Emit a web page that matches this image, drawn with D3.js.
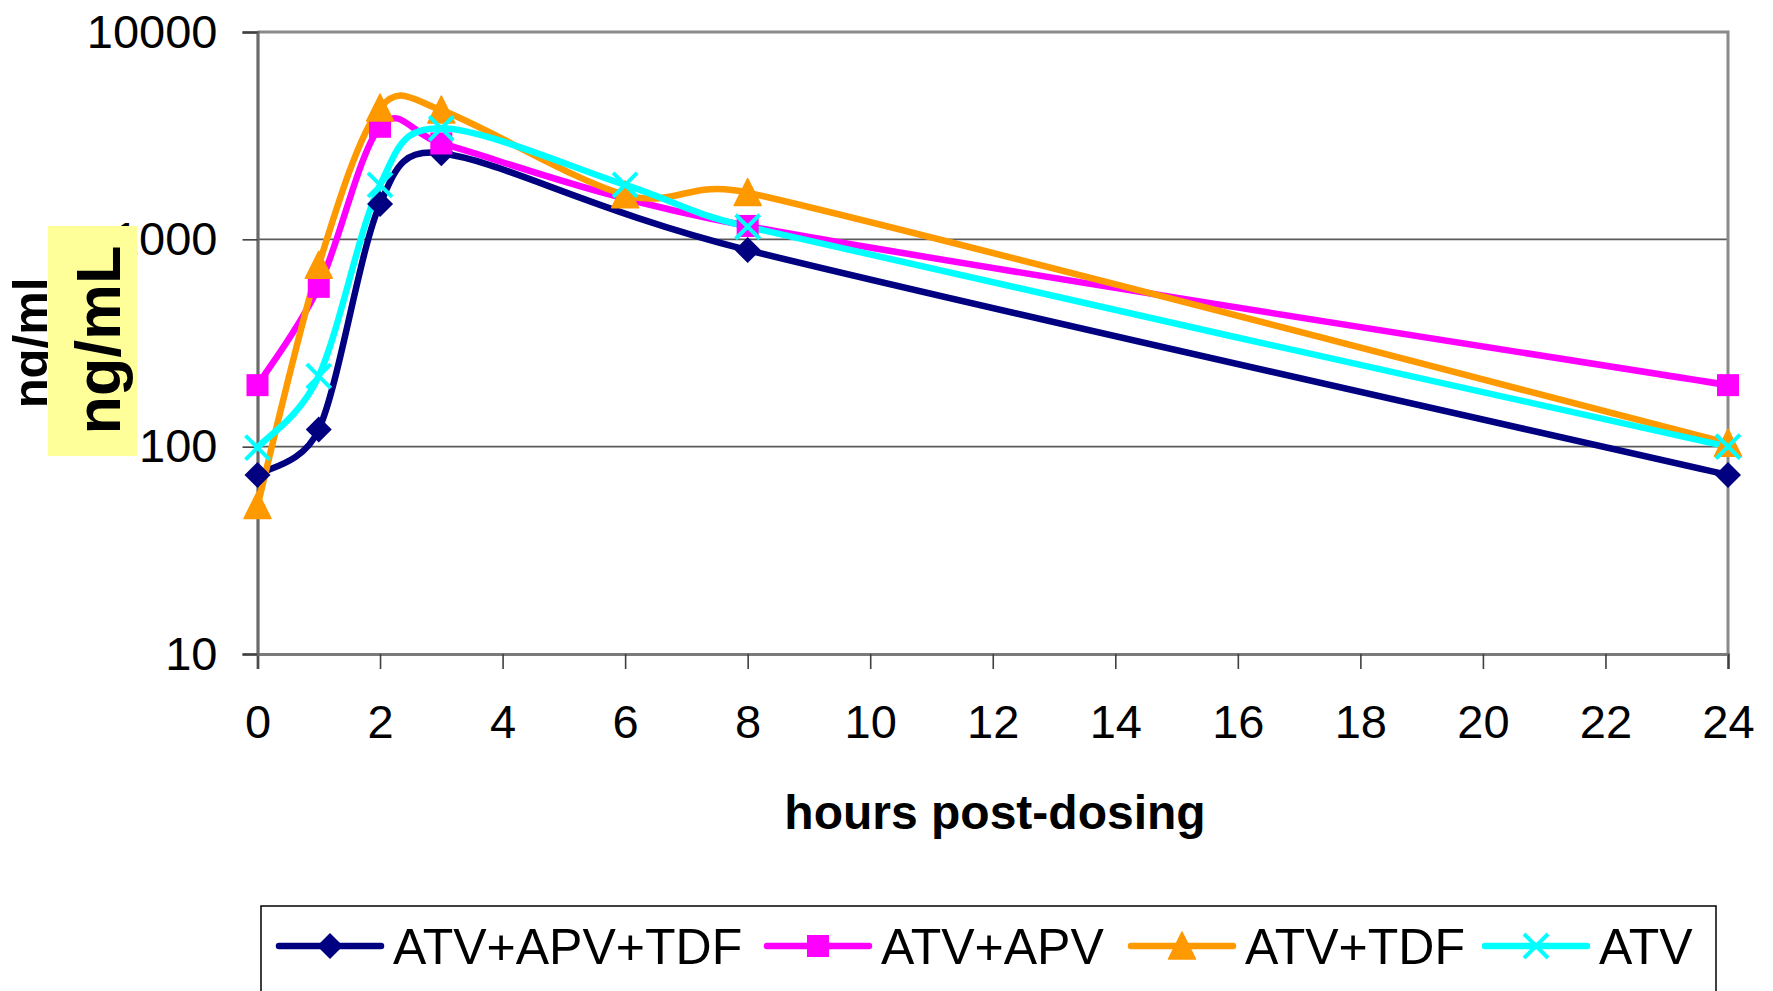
<!DOCTYPE html>
<html><head><meta charset="utf-8">
<script src="https://cdn.jsdelivr.net/npm/d3@7"></script>
<style>
html,body{margin:0;padding:0;background:#fff;}
svg{display:block;font-family:"Liberation Sans",Arial,Helvetica,sans-serif;}
</style>
</head><body>
<svg id="chart" width="1773" height="991"></svg>
<script>
// ---- data ----
const xTicks = [0,2,4,6,8,10,12,14,16,18,20,22,24];
const yTicks = [10,100,1000,10000];
const seriesNames = ["ATV+APV+TDF","ATV+APV","ATV+TDF","ATV"];
const seriesColors = ["#000080","#FF00FF","#FF9900","#00FFFF"];
const seriesMarkers = ["diamond","square","triangle","cross"];
const hoursATV_APV_TDF = [0,1,2,3,8,24];
const concATV_APV_TDF  = [73,121,1480,2600,888,73];
const hoursATV_APV = [0,1,2,3,8,24];
const concATV_APV  = [198,590,3490,2900,1160,198];
const hoursATV_TDF = [0,1,2,3,6,8,24];
const concATV_TDF  = [52,750,4300,4200,1640,1680,104];
const hoursATV = [0,1,2,3,6,8,24];
const concATV  = [99,219,1830,3430,1830,1150,100];
const xLabel = "hours post-dosing";
const yLabelOld = "ng/ml";
const yLabelNew = "ng/mL";

const seriesHours = [hoursATV_APV_TDF, hoursATV_APV, hoursATV_TDF, hoursATV];
const seriesConc = [concATV_APV_TDF, concATV_APV, concATV_TDF, concATV];
const series = seriesNames.map((n,i)=>({
  name:n, color:seriesColors[i], marker:seriesMarkers[i],
  pts: seriesHours[i].map((h,j)=>({h:h, v:seriesConc[i][j]}))
}));

// ---- spreadsheet-style smoothed curve (custom d3 curve factory) ----
function SmoothCurve(context){ this._context = context; }
SmoothCurve.prototype = {
  areaStart(){}, areaEnd(){},
  lineStart(){ this._pts = []; },
  point(x,y){ this._pts.push([+x,+y]); },
  lineEnd(){
    const p = this._pts, c = this._context, n = p.length;
    if(!n) return;
    c.moveTo(p[0][0], p[0][1]);
    if(n===1) return;
    const dist = (a,b)=>Math.hypot(b[0]-a[0], b[1]-a[1]);
    for(let i=0;i<n-1;i++){
      const p0 = p[Math.max(i-1,0)], p1 = p[i], p2 = p[i+1], p3 = p[Math.min(i+2,n-1)];
      const d12 = dist(p1,p2), d02 = dist(p0,p2), d13 = dist(p1,p3);
      let f1 = 1/6, f2 = 1/6;
      if(d02/6 >= d12/2 && d02>0) f1 = d12/(2*d02);
      if(d13/6 >= d12/2 && d13>0) f2 = d12/(2*d13);
      const b1 = [p1[0]+f1*(p2[0]-p0[0]), p1[1]+f1*(p2[1]-p0[1])];
      const b2 = [p2[0]-f2*(p3[0]-p1[0]), p2[1]-f2*(p3[1]-p1[1])];
      c.bezierCurveTo(b1[0],b1[1],b2[0],b2[1],p2[0],p2[1]);
    }
  }
};
const curveSmooth = ctx => new SmoothCurve(ctx);

// ---- layout ----
const svg = d3.select("#chart");
const L = 257.5, R = 1728, T = 32, B = 654;
const x = d3.scaleLinear().domain([0,24]).range([L,R]);
const y = d3.scaleLog().domain([10,10000]).range([B,T]);

// gridlines
svg.append("g").selectAll("line").data([100,1000]).join("line")
  .attr("x1",L).attr("x2",R).attr("y1",d=>y(d)).attr("y2",d=>y(d))
  .attr("stroke","#5a5a5a").attr("stroke-width",1.6);

// top & right border
svg.append("path")
  .attr("d",`M${L},${y(10000)}H${R}V${B}`)
  .attr("fill","none").attr("stroke","#8a8a8a").attr("stroke-width",3);

// x axis
const xAxis = svg.append("g").attr("transform",`translate(0,${B})`)
  .call(d3.axisBottom(x).tickValues(xTicks).tickSize(15).tickPadding(36).tickFormat(d3.format("d")));
xAxis.select(".domain").attr("stroke","#7a7a7a").attr("stroke-width",3);
xAxis.selectAll(".tick line").attr("stroke","#404040").attr("stroke-width",1.6);
xAxis.selectAll(".tick text").attr("font-size",47).attr("fill","#000")
  .attr("font-family","'Liberation Sans',Arial,sans-serif").attr("dy","0.71em");

// y axis
const yAxis = svg.append("g").attr("transform",`translate(${L},0)`)
  .call(d3.axisLeft(y).tickValues(yTicks).tickSize(15).tickPadding(25).tickFormat(d3.format("d")));
yAxis.select(".domain").attr("stroke","#6a6a6a").attr("stroke-width",3.2);
yAxis.selectAll(".tick line").attr("stroke","#404040").attr("stroke-width",1.6);
yAxis.selectAll(".tick text").attr("font-size",47).attr("fill","#000")
  .attr("font-family","'Liberation Sans',Arial,sans-serif").attr("dy","0.32em");

// series lines
const line = d3.line().x(d=>x(d.h)).y(d=>y(d.v)).curve(curveSmooth);
svg.append("g").selectAll("path").data(series).join("path")
  .attr("d",d=>line(d.pts)).attr("fill","none")
  .attr("stroke",d=>d.color).attr("stroke-width",6.5)
  .attr("stroke-linejoin","round").attr("stroke-linecap","round");

// markers
function drawMarker(g, type, color, cx, cy){
  if(type==="diamond"){
    g.append("path").attr("d",`M${cx},${cy-13}L${cx+13},${cy}L${cx},${cy+13}L${cx-13},${cy}Z`).attr("fill",color);
  } else if(type==="square"){
    g.append("rect").attr("x",cx-11).attr("y",cy-11).attr("width",22).attr("height",22).attr("fill",color);
  } else if(type==="triangle"){
    g.append("path").attr("d",`M${cx},${cy-14}L${cx+13.5},${cy+13}L${cx-13.5},${cy+13}Z`).attr("fill",color)
      .attr("stroke",color).attr("stroke-width",1.5).attr("stroke-linejoin","round");
  } else {
    g.append("path").attr("d",`M${cx-12},${cy-12}L${cx+12},${cy+12}M${cx+12},${cy-12}L${cx-12},${cy+12}`)
      .attr("stroke",color).attr("stroke-width",4).attr("fill","none");
  }
}
const mg = svg.append("g");
series.forEach(s=>{
  s.pts.forEach(p=>drawMarker(mg, s.marker, s.color, x(p.h), y(p.v)));
});

// y axis titles
svg.append("text").attr("transform","translate(47,343) rotate(-90)")
  .attr("text-anchor","middle").attr("font-size",49).attr("font-weight","bold").attr("fill","#000")
  .text(yLabelOld);
svg.append("rect").attr("x",48).attr("y",226).attr("width",89).attr("height",230).attr("fill","#FFFF99");
svg.append("text").attr("transform","translate(120,340) rotate(-90)")
  .attr("text-anchor","middle").attr("font-size",63).attr("font-weight","bold").attr("fill","#000")
  .text(yLabelNew);

// x axis title
svg.append("text").attr("x",995).attr("y",829).attr("text-anchor","middle")
  .attr("font-size",48).attr("font-weight","bold").attr("fill","#000").text(xLabel);

// legend
svg.append("rect").attr("x",261).attr("y",906).attr("width",1455).attr("height",120)
  .attr("fill","#fff").attr("stroke","#000").attr("stroke-width",1.5);
const legLineX = [279, 767, 1131, 1485];
const legLineW = 102;
const legY = 946;
series.forEach((s,i)=>{
  const g = svg.append("g");
  g.append("line").attr("x1",legLineX[i]).attr("x2",legLineX[i]+legLineW)
    .attr("y1",legY).attr("y2",legY).attr("stroke",s.color).attr("stroke-width",6.5).attr("stroke-linecap","round");
  drawMarker(g, s.marker, s.color, legLineX[i]+legLineW/2, legY);
  g.append("text").attr("x",legLineX[i]+legLineW+12).attr("y",legY+18)
    .attr("font-size",50).attr("fill","#000").text(s.name);
});
</script>
</body></html>
